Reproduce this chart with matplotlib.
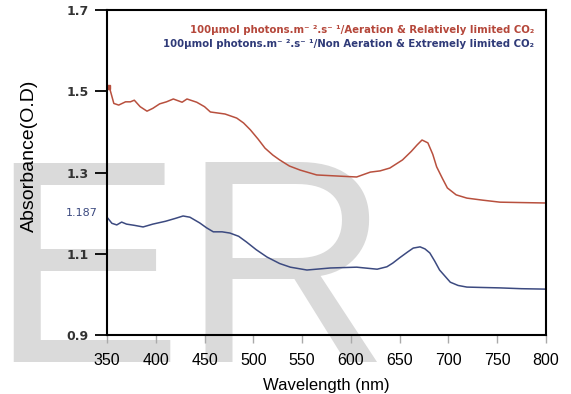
import matplotlib.pyplot as plt

# absorbance spectra
wl_aer = [351, 353, 357, 362, 369, 374, 378, 384, 391, 397, 404, 411, 418, 427, 432,
          442, 450, 456, 465, 471, 483, 490, 497, 505, 512, 520, 527, 537, 548, 565,
          589, 606, 620, 630, 640, 653, 662, 668, 673, 679, 684, 688, 694, 699, 708,
          719, 735, 753, 775, 799]
abs_aer = [1.510, 1.505, 1.470, 1.466, 1.474, 1.474, 1.478, 1.462, 1.451, 1.458, 1.469,
           1.474, 1.481, 1.473, 1.481, 1.473, 1.462, 1.449, 1.446, 1.444, 1.434, 1.422,
           1.405, 1.382, 1.360, 1.343, 1.331, 1.316, 1.306, 1.294, 1.291, 1.289, 1.301,
           1.304, 1.311, 1.331, 1.352, 1.368, 1.380, 1.373, 1.345, 1.314, 1.285, 1.262,
           1.245, 1.237, 1.232, 1.227, 1.226, 1.225]

wl_non = [351, 355, 360, 365, 370, 378, 387, 397, 410, 420, 428, 435, 445, 452, 459,
          468, 476, 485, 493, 503, 514, 527, 538, 555, 579, 606, 627, 637, 643, 650,
          658, 664, 671, 676, 681, 686, 691, 702, 710, 719, 735, 753, 775, 799]
abs_non = [1.187, 1.175, 1.171, 1.178, 1.173, 1.170, 1.166, 1.173, 1.180, 1.187, 1.193,
           1.190, 1.176, 1.164, 1.154, 1.154, 1.151, 1.143, 1.129, 1.110, 1.092, 1.076,
           1.067, 1.060, 1.065, 1.067, 1.062, 1.068, 1.077, 1.090, 1.104, 1.114, 1.117,
           1.112, 1.102, 1.082, 1.060, 1.030, 1.022, 1.018, 1.017, 1.016, 1.014, 1.013]

xticks = [350, 400, 450, 500, 550, 600, 650, 700, 750, 800]
yticks = [0.9, 1.1, 1.3, 1.5, 1.7]

label_aer = '100μmol photons.m⁻ ².s⁻ ¹/Aeration & Relatively limited CO₂'
label_non = '100μmol photons.m⁻ ².s⁻ ¹/Non Aeration & Extremely limited CO₂'

red = '#b8503e'
blue = '#3c4a80'

fig = plt.figure(figsize=(5.71, 3.94), dpi=100)
fig.patch.set_facecolor('white')

# big grey letters behind the plot
fig.text(-0.019, 0.081, 'ER', fontsize=208, family='Liberation Sans', color='#dadada',
         ha='left', va='baseline', zorder=-5)

ax = fig.add_axes([0.1874, 0.1497, 0.7686, 0.8249])
ax.patch.set_visible(False)

ax.plot(wl_aer, abs_aer, color=red, lw=1.1)
ax.plot(wl_aer[:1], abs_aer[:1], 's', color=red, ms=3)
ax.plot(wl_non, abs_non, color=blue, lw=1.1)

ax.set_xlim(350, 800)
ax.set_ylim(0.9, 1.7)

for s in ax.spines.values():
    s.set_linewidth(1.5)
    s.set_color('black')

ax.set_xticks(xticks)
ax.set_xticklabels([str(t) for t in xticks], family='Liberation Sans', fontsize=11.5)
ax.tick_params(axis='x', direction='out', length=6, width=1, color='#aaaaaa', pad=7)

ax.set_yticks(yticks)
ax.set_yticklabels([str(t) for t in yticks], family='DejaVu Sans', fontweight='bold',
                   fontsize=9, color='#333333')
ax.tick_params(axis='y', direction='out', length=9, width=1.3, color='black', pad=4)

ax.text(-0.022, 1.2, '1.187', transform=ax.get_yaxis_transform(), ha='right', va='center',
        fontsize=8, color=blue, family='DejaVu Sans')

ax.set_xlabel('Wavelength (nm)', family='Liberation Sans', fontsize=12, labelpad=7)
ax.set_ylabel('Absorbance(O.D)', family='Liberation Sans', fontsize=14)
ax.yaxis.set_label_coords(-0.158, 0.55)

ax.text(0.974, 0.938, label_aer, transform=ax.transAxes, ha='right', va='center',
        fontsize=7.3, fontweight='bold', color='#b5473a', family='DejaVu Sans')
ax.text(0.974, 0.895, label_non, transform=ax.transAxes, ha='right', va='center',
        fontsize=7.3, fontweight='bold', color='#2f3a78', family='DejaVu Sans')

fig.savefig('out.png', dpi=100)
